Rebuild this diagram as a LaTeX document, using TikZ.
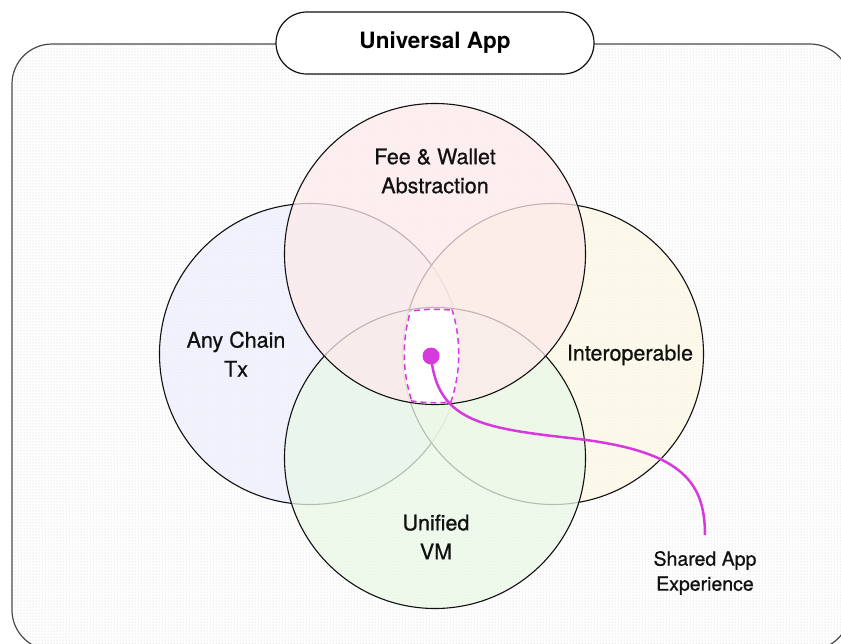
\documentclass[tikz,border=0pt]{standalone}
\usepackage{fontspec}
\setmainfont{TeX Gyre Heros}
\newfontfamily\medfont[FakeBold=0.7]{TeX Gyre Heros}
\usetikzlibrary{patterns,positioning}
\definecolor{Ink}{HTML}{111111}
\definecolor{Frame}{HTML}{4A4A4A}
\definecolor{Lilac}{HTML}{ECEEFC}
\definecolor{Blush}{HTML}{FDEAEA}
\definecolor{Cream}{HTML}{FCF8E4}
\definecolor{Mint}{HTML}{E9F8E7}
\definecolor{Magenta}{HTML}{D63ADC}

\begin{document}
\begin{tikzpicture}[x=1pt,y=-1pt,
    setcircle/.style={circle,draw=Ink,line width=1.1pt,minimum size=301pt,
      inner sep=0pt,fill opacity=0.75},
    setlabel/.style={font=\medfont\fontsize{21.5}{29}\selectfont,align=center,text=Ink}]
    \useasboundingbox (0,0) rectangle (841,643);
    % outer frame
    \draw[Frame,line width=1.2pt,rounded corners=40pt,pattern=dots,
      pattern color=black!22] (12,44) rectangle (850,650);
    % the four sets
    \foreach \nm/\x/\y/\col in {
      any/310/354/Lilac,inter/553/354/Cream,unified/435/458/Mint,fee/435/254/Blush}
      {
        \node[setcircle,fill=\col] (\nm) at (\x,\y) {};
      }
    % common part
    \begin{scope}
      \foreach \nm in {any,inter,unified,fee}
        \clip (\nm.center) circle (149.5pt);
      \fill[white] (0,0) rectangle (841,643);
      \foreach \nm in {any,inter,unified,fee}
        \draw[Magenta,line width=3pt,dash pattern=on 6pt off 4pt]
          (\nm.center) circle (149.5pt);
    \end{scope}
    \node[setlabel] (feelab) at (435,171) {Fee \& Wallet\\Abstraction};
    \node[setlabel] (anylab) at (236,354) {Any Chain\\Tx};
    \node[setlabel] (interlab) at (630,355) {Interoperable};
    \node[setlabel] (unifiedlab) at (436,537) {Unified\\VM};
    % title
    \node[draw=Ink,fill=white,line width=1.2pt,rounded corners=31pt,
      minimum width=318pt,minimum height=62pt,
      font=\fontsize{22.5}{26}\selectfont\bfseries] (title) at (435,43)
      {Universal App};
    % shared experience
    \node[circle,fill=Magenta,minimum size=17pt,inner sep=0pt] (hub) at (431,356) {};
    \node[setlabel,font=\medfont\fontsize{19.5}{25}\selectfont] (shared) at (705,573)
      {Shared App\\Experience};
    \coordinate (tail) at (705,535);
    \draw[Magenta,line width=2.5pt] (hub.center)
      .. controls (437,420) and (480,428) .. (570,438)
      .. controls (680,450) and (705,480) .. (tail);
  \end{tikzpicture}
\end{document}
